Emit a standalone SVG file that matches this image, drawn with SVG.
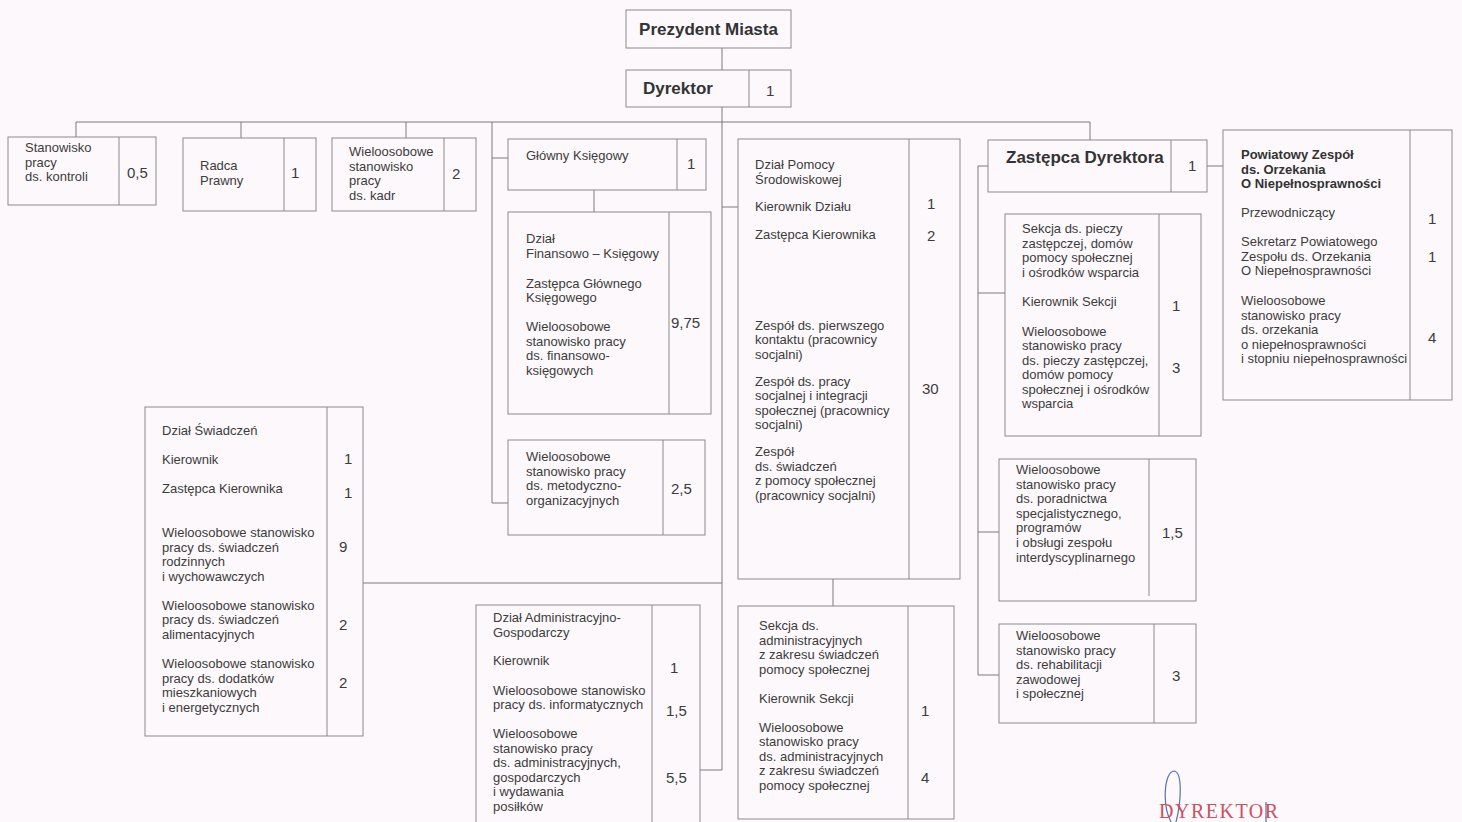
<svg xmlns="http://www.w3.org/2000/svg" width="1462" height="822" viewBox="0 0 1462 822">
<style>
.bx{fill:none;stroke:#8a8a8a;stroke-width:1}
.dv{stroke:#8a8a8a;stroke-width:1}
.cn{fill:none;stroke:#7a7a7a;stroke-width:1}
text{font-family:"Liberation Sans",Arial,sans-serif;fill:#3c3c3c}
.t{font-size:13px}
.v{font-size:15px}
.b{font-size:17px;font-weight:bold;fill:#333}
.bs{font-size:13px;font-weight:bold;fill:#333}
.st{font-family:"Liberation Serif","Times New Roman",serif;font-size:20px;fill:#c9535e;letter-spacing:1.5px}
</style>
<rect x="0" y="0" width="1462" height="822" fill="#fcf8fb"/>
<g id="connectors">
<path class="cn" d="M722 48V70"/>
<path class="cn" d="M722 107V770H700"/>
<path class="cn" d="M76 137V122H1090V140"/>
<path class="cn" d="M241 122V138"/>
<path class="cn" d="M406 122V138"/>
<path class="cn" d="M492 122V503H508"/>
<path class="cn" d="M492 158H508"/>
<path class="cn" d="M594 190V212"/>
<path class="cn" d="M722 207H738"/>
<path class="cn" d="M722 583H363"/>
<path class="cn" d="M833 579V606"/>
<path class="cn" d="M1207 166H1223"/>
<path class="cn" d="M988 166H978V675H999"/>
<path class="cn" d="M978 293H1005"/>
<path class="cn" d="M978 532H999"/>
</g>
<g id="prezydent">
<rect class="bx" x="626" y="10" width="165" height="38"/>
<text class="b" x="708.5" y="35" text-anchor="middle">Prezydent Miasta</text>
</g>
<g id="dyrektor">
<rect class="bx" x="626" y="70" width="165" height="37"/>
<line class="dv" x1="749" y1="70" x2="749" y2="107"/>
<text class="b" x="643" y="94">Dyrektor</text>
<text class="v" x="766" y="96">1</text>
</g>
<g id="kontrola">
<rect class="bx" x="8" y="137" width="148" height="68"/>
<line class="dv" x1="119" y1="137" x2="119" y2="205"/>
<text class="t" x="25" y="152"><tspan x="25">Stanowisko</tspan><tspan x="25" dy="14.5">pracy</tspan><tspan x="25" dy="14.5">ds. kontroli</tspan></text>
<text class="v" x="127" y="178">0,5</text>
</g>
<g id="radca">
<rect class="bx" x="183" y="138" width="133" height="73"/>
<line class="dv" x1="284" y1="138" x2="284" y2="211"/>
<text class="t" x="200" y="170"><tspan x="200">Radca</tspan><tspan x="200" dy="14.5">Prawny</tspan></text>
<text class="v" x="291" y="178">1</text>
</g>
<g id="kadry">
<rect class="bx" x="332" y="138" width="144" height="73"/>
<line class="dv" x1="444" y1="138" x2="444" y2="211"/>
<text class="t" x="349" y="156"><tspan x="349">Wieloosobowe</tspan><tspan x="349" dy="14.5">stanowisko</tspan><tspan x="349" dy="14.5">pracy</tspan><tspan x="349" dy="14.5">ds. kadr</tspan></text>
<text class="v" x="452" y="179">2</text>
</g>
<g id="glowny-ksiegowy">
<rect class="bx" x="508" y="139" width="198" height="51"/>
<line class="dv" x1="677" y1="139" x2="677" y2="190"/>
<text class="t" x="526" y="160">Główny Księgowy</text>
<text class="v" x="687" y="169">1</text>
</g>
<g id="finansowo-ksiegowy">
<rect class="bx" x="508" y="212" width="203" height="202"/>
<line class="dv" x1="669" y1="212" x2="669" y2="414"/>
<text class="t" x="526" y="243"><tspan x="526">Dział</tspan><tspan x="526" dy="14.5">Finansowo – Księgowy</tspan><tspan x="526" dy="30">Zastępca Głównego</tspan><tspan x="526" dy="14.5">Księgowego</tspan><tspan x="526" dy="29">Wieloosobowe</tspan><tspan x="526" dy="14.5">stanowisko pracy</tspan><tspan x="526" dy="14.5">ds. finansowo-</tspan><tspan x="526" dy="14.5">księgowych</tspan></text>
<text class="v" x="671" y="328">9,75</text>
</g>
<g id="metodyczno">
<rect class="bx" x="508" y="440" width="197" height="95"/>
<line class="dv" x1="663" y1="440" x2="663" y2="535"/>
<text class="t" x="526" y="461"><tspan x="526">Wieloosobowe</tspan><tspan x="526" dy="14.5">stanowisko pracy</tspan><tspan x="526" dy="14.5">ds. metodyczno-</tspan><tspan x="526" dy="14.5">organizacyjnych</tspan></text>
<text class="v" x="671" y="494">2,5</text>
</g>
<g id="pomoc-srodowiskowa">
<rect class="bx" x="738" y="139" width="222" height="440"/>
<line class="dv" x1="909" y1="139" x2="909" y2="579"/>
<text class="t" x="755" y="169"><tspan x="755">Dział Pomocy</tspan><tspan x="755" dy="14.5">Środowiskowej</tspan><tspan x="755" dy="27.5">Kierownik Działu</tspan><tspan x="755" dy="27.5">Zastępca Kierownika</tspan><tspan x="755" dy="91">Zespół ds. pierwszego</tspan><tspan x="755" dy="14.5">kontaktu (pracownicy</tspan><tspan x="755" dy="14.5">socjalni)</tspan><tspan x="755" dy="27">Zespół ds. pracy</tspan><tspan x="755" dy="14.5">socjalnej i integracji</tspan><tspan x="755" dy="14.5">społecznej (pracownicy</tspan><tspan x="755" dy="14.5">socjalni)</tspan><tspan x="755" dy="27">Zespół</tspan><tspan x="755" dy="14.5">ds. świadczeń</tspan><tspan x="755" dy="14.5">z pomocy społecznej</tspan><tspan x="755" dy="14.5">(pracownicy socjalni)</tspan></text>
<text class="v" x="927" y="209">1</text>
<text class="v" x="927" y="241">2</text>
<text class="v" x="922" y="394">30</text>
</g>
<g id="sekcja-administracyjna">
<rect class="bx" x="738" y="606" width="216" height="213"/>
<line class="dv" x1="908" y1="606" x2="908" y2="819"/>
<text class="t" x="759" y="630"><tspan x="759">Sekcja ds.</tspan><tspan x="759" dy="14.5">administracyjnych</tspan><tspan x="759" dy="14.5">z zakresu świadczeń</tspan><tspan x="759" dy="14.5">pomocy społecznej</tspan><tspan x="759" dy="29">Kierownik Sekcji</tspan><tspan x="759" dy="29">Wieloosobowe</tspan><tspan x="759" dy="14.5">stanowisko pracy</tspan><tspan x="759" dy="14.5">ds. administracyjnych</tspan><tspan x="759" dy="14.5">z zakresu świadczeń</tspan><tspan x="759" dy="14.5">pomocy społecznej</tspan></text>
<text class="v" x="921" y="716">1</text>
<text class="v" x="921" y="783">4</text>
</g>
<g id="zastepca-dyrektora">
<rect class="bx" x="988" y="140" width="219" height="52"/>
<line class="dv" x1="1171" y1="140" x2="1171" y2="192"/>
<text class="b" x="1006" y="163">Zastępca Dyrektora</text>
<text class="v" x="1188" y="171">1</text>
</g>
<g id="sekcja-pieczy">
<rect class="bx" x="1005" y="214" width="196" height="222"/>
<line class="dv" x1="1159" y1="214" x2="1159" y2="436"/>
<text class="t" x="1022" y="233"><tspan x="1022">Sekcja ds. pieczy</tspan><tspan x="1022" dy="14.5">zastępczej, domów</tspan><tspan x="1022" dy="14.5">pomocy  społecznej</tspan><tspan x="1022" dy="14.5">i ośrodków wsparcia</tspan><tspan x="1022" dy="29">Kierownik Sekcji</tspan><tspan x="1022" dy="30">Wieloosobowe</tspan><tspan x="1022" dy="14.5">stanowisko pracy</tspan><tspan x="1022" dy="14.5">ds. pieczy  zastępczej,</tspan><tspan x="1022" dy="14.5">domów pomocy</tspan><tspan x="1022" dy="14.5">społecznej i ośrodków</tspan><tspan x="1022" dy="14.5">wsparcia</tspan></text>
<text class="v" x="1172" y="311">1</text>
<text class="v" x="1172" y="373">3</text>
</g>
<g id="poradnictwo">
<rect class="bx" x="999" y="459" width="197" height="142"/>
<line class="dv" x1="1149" y1="459" x2="1149" y2="596"/>
<text class="t" x="1016" y="474"><tspan x="1016">Wieloosobowe</tspan><tspan x="1016" dy="14.6">stanowisko pracy</tspan><tspan x="1016" dy="14.6">ds. poradnictwa</tspan><tspan x="1016" dy="14.6">specjalistycznego,</tspan><tspan x="1016" dy="14.6">programów</tspan><tspan x="1016" dy="14.6">i obsługi zespołu</tspan><tspan x="1016" dy="14.6">interdyscyplinarnego</tspan></text>
<text class="v" x="1162" y="538">1,5</text>
</g>
<g id="rehabilitacja">
<rect class="bx" x="999" y="624" width="197" height="99"/>
<line class="dv" x1="1154" y1="624" x2="1154" y2="723"/>
<text class="t" x="1016" y="640"><tspan x="1016">Wieloosobowe</tspan><tspan x="1016" dy="14.6">stanowisko pracy</tspan><tspan x="1016" dy="14.6">ds. rehabilitacji</tspan><tspan x="1016" dy="14.6">zawodowej</tspan><tspan x="1016" dy="14.6">i społecznej</tspan></text>
<text class="v" x="1172" y="681">3</text>
</g>
<g id="powiatowy-zespol">
<rect class="bx" x="1223" y="130" width="229" height="270"/>
<line class="dv" x1="1410" y1="130" x2="1410" y2="400"/>
<text class="bs" x="1241" y="159"><tspan x="1241">Powiatowy Zespół</tspan><tspan x="1241" dy="14.5">ds. Orzekania</tspan><tspan x="1241" dy="14.5">O Niepełnosprawności</tspan></text>
<text class="t" x="1241" y="217"><tspan x="1241">Przewodniczący</tspan><tspan x="1241" dy="29">Sekretarz Powiatowego</tspan><tspan x="1241" dy="14.5">Zespołu ds. Orzekania</tspan><tspan x="1241" dy="14.5">O Niepełnosprawności</tspan><tspan x="1241" dy="30">Wieloosobowe</tspan><tspan x="1241" dy="14.5">stanowisko pracy</tspan><tspan x="1241" dy="14.5">ds. orzekania</tspan><tspan x="1241" dy="14.5">o niepełnosprawności</tspan><tspan x="1241" dy="14.5">i stopniu niepełnosprawności</tspan></text>
<text class="v" x="1428" y="224">1</text>
<text class="v" x="1428" y="262">1</text>
<text class="v" x="1428" y="343">4</text>
</g>
<g id="dzial-swiadczen">
<rect class="bx" x="145" y="407" width="218" height="329"/>
<line class="dv" x1="327" y1="407" x2="327" y2="736"/>
<text class="t" x="162" y="435"><tspan x="162">Dział Świadczeń</tspan><tspan x="162" dy="29">Kierownik</tspan><tspan x="162" dy="29">Zastępca Kierownika</tspan><tspan x="162" dy="44">Wieloosobowe stanowisko</tspan><tspan x="162" dy="14.6">pracy ds. świadczeń</tspan><tspan x="162" dy="14.6">rodzinnych</tspan><tspan x="162" dy="14.6">i wychowawczych</tspan><tspan x="162" dy="29">Wieloosobowe stanowisko</tspan><tspan x="162" dy="14.6">pracy ds. świadczeń</tspan><tspan x="162" dy="14.6">alimentacyjnych</tspan><tspan x="162" dy="29">Wieloosobowe stanowisko</tspan><tspan x="162" dy="14.6">pracy ds. dodatków</tspan><tspan x="162" dy="14.6">mieszkaniowych</tspan><tspan x="162" dy="14.6">i energetycznych</tspan></text>
<text class="v" x="344" y="464">1</text>
<text class="v" x="344" y="498">1</text>
<text class="v" x="339" y="552">9</text>
<text class="v" x="339" y="630">2</text>
<text class="v" x="339" y="688">2</text>
</g>
<g id="administracyjno-gospodarczy">
<rect class="bx" x="476" y="605" width="224" height="225"/>
<line class="dv" x1="652" y1="605" x2="652" y2="822"/>
<text class="t" x="493" y="622"><tspan x="493">Dział Administracyjno-</tspan><tspan x="493" dy="14.5">Gospodarczy</tspan><tspan x="493" dy="28.5">Kierownik</tspan><tspan x="493" dy="29.5">Wieloosobowe stanowisko</tspan><tspan x="493" dy="14.5">pracy  ds. informatycznych</tspan><tspan x="493" dy="29">Wieloosobowe</tspan><tspan x="493" dy="14.6">stanowisko pracy</tspan><tspan x="493" dy="14.6">ds. administracyjnych,</tspan><tspan x="493" dy="14.6">gospodarczych</tspan><tspan x="493" dy="14.6">i wydawania</tspan><tspan x="493" dy="14.6">posiłków</tspan></text>
<text class="v" x="670" y="673">1</text>
<text class="v" x="666" y="716">1,5</text>
<text class="v" x="666" y="783">5,5</text>
</g>
<g id="stamp">
<path d="M1171 822C1162 805 1164 772 1174 771C1183 772 1181 803 1176 822" fill="none" stroke="#5a6fb0" stroke-width="1.2"/>
<path d="M1266 802V822" fill="none" stroke="#5a6fb0" stroke-width="1.2"/>
<text class="st" x="1159" y="818">DYREKTOR</text>
</g>
</svg>
